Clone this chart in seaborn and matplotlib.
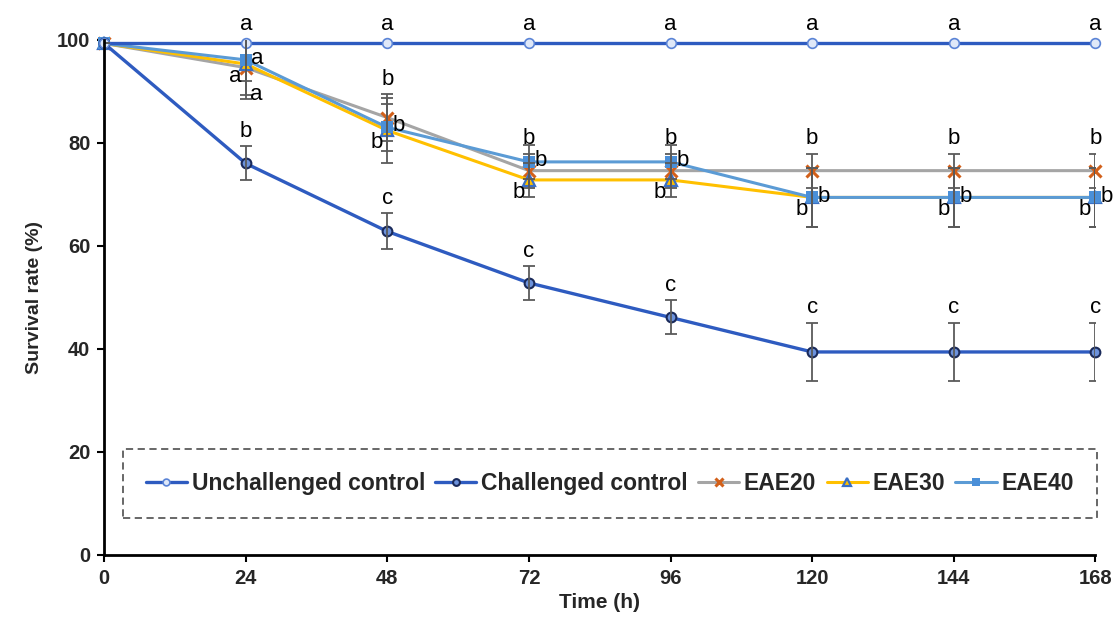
import matplotlib
matplotlib.use("Agg")
import matplotlib.pyplot as plt
import seaborn as sns
import numpy as np

# data
time_h = [0, 24, 48, 72, 96, 120, 144, 168]

unchallenged = [99.3, 99.3, 99.3, 99.3, 99.3, 99.3, 99.3, 99.3]
challenged = [99.3, 76.0, 62.8, 52.8, 46.1, 39.4, 39.4, 39.4]
eae20 = [99.3, 94.6, 84.9, 74.6, 74.6, 74.6, 74.6, 74.6]
eae30 = [99.3, 95.3, 82.4, 72.8, 72.8, 69.4, 69.4, 69.4]
eae40 = [99.3, 96.1, 83.0, 76.3, 76.3, 69.4, 69.4, 69.4]

challenged_err = [0, 3.3, 3.5, 3.3, 3.3, 5.7, 5.7, 5.7]
eae20_err = [0, 6.0, 4.6, 3.3, 3.3, 3.3, 3.3, 3.3]
eae30_err = [0, 6.0, 6.4, 3.3, 3.3, 5.7, 5.7, 5.7]
eae40_err = [0, 4.0, 4.5, 3.3, 3.3, 5.7, 5.7, 5.7]

unchallenged_letters = ["", "a", "a", "a", "a", "a", "a", "a"]
challenged_letters = ["", "b", "c", "c", "c", "c", "c", "c"]
eae20_letters = ["", "a", "b", "b", "b", "b", "b", "b"]
eae30_letters = ["", "a", "b", "b", "b", "b", "b", "b"]
eae40_letters = ["", "a", "b", "b", "b", "b", "b", "b"]

sns.set_style("white")
plt.rcParams["font.family"] = ["Liberation Sans", "DejaVu Sans"]

fig = plt.figure(figsize=(11.2, 6.32), dpi=100)
ax = fig.add_axes([0.093, 0.122, 0.885, 0.815])

err_kw = dict(fmt="none", ecolor="#5a5a5a", elinewidth=1.3, capsize=4,
              capthick=1.3, zorder=6)

# series drawn back to front
sns.lineplot(x=time_h, y=eae20, ax=ax, color="#a5a5a5", lw=2.2,
             marker="x", ms=8, mew=2.2, mec="#d2601a", label="EAE20",
             zorder=3, clip_on=False)
sns.lineplot(x=time_h, y=eae30, ax=ax, color="#ffc000", lw=2.2,
             marker="^", ms=8, mew=1.6, mfc="#ffc000", mec="#3a6fc4",
             label="EAE30", zorder=3, clip_on=False)
sns.lineplot(x=time_h, y=eae40, ax=ax, color="#5b9bd5", lw=2.2,
             marker="s", ms=8, mew=0, mfc="#4a8fd8", label="EAE40",
             zorder=4, clip_on=False)
sns.lineplot(x=time_h, y=challenged, ax=ax, color="#2e5bc0", lw=2.4,
             marker="o", ms=7, mew=1.5, mfc="#6c92dc", mec="#1a2a5a",
             label="Challenged control", zorder=5, clip_on=False)
sns.lineplot(x=time_h, y=unchallenged, ax=ax, color="#2e5bc0", lw=2.4,
             marker="o", ms=7, mew=1.2, mfc="#dfe8f8", mec="#5b84d6",
             label="Unchallenged control", zorder=5, clip_on=False)

ax.errorbar(time_h, challenged, yerr=challenged_err, **err_kw)
ax.errorbar(time_h, eae20, yerr=eae20_err, **err_kw)
ax.errorbar(time_h, eae30, yerr=eae30_err, **err_kw)
ax.errorbar(time_h, eae40, yerr=eae40_err, **err_kw)

# significance letters
txt_kw = dict(textcoords="offset points", fontsize=16, color="black",
              annotation_clip=False, zorder=7)
for t, v, s in zip(time_h, unchallenged, unchallenged_letters):
    ax.annotate(s, (t, v), xytext=(0, 6), ha="center", va="bottom", **txt_kw)
for t, v, e, s in zip(time_h, challenged, challenged_err, challenged_letters):
    ax.annotate(s, (t, v + e), xytext=(0, 3), ha="center", va="bottom", **txt_kw)
for i, (t, v, e, s) in enumerate(zip(time_h, eae20, eae20_err, eae20_letters)):
    if i == 1:
        # no room above at 24 h, the letter sits beside the bar
        ax.annotate(s, (t, v - e), xytext=(3, 3), ha="left", va="center", **txt_kw)
    else:
        ax.annotate(s, (t, v + e), xytext=(0, 3), ha="center", va="bottom", **txt_kw)
for t, v, s in zip(time_h, eae30, eae30_letters):
    ax.annotate(s, (t, v), xytext=(-3, -9), ha="right", va="center", **txt_kw)
for t, v, s in zip(time_h, eae40, eae40_letters):
    ax.annotate(s, (t, v), xytext=(4, 1), ha="left", va="center", **txt_kw)

ax.set_xlim(0, 168)
ax.set_ylim(0, 100)
ax.set_xticks(time_h)
ax.set_yticks([0, 20, 40, 60, 80, 100])
ax.tick_params(axis="both", direction="out", length=5, width=1.5,
               color="black", labelsize=14.5, pad=5, bottom=True, left=True)
for lab in ax.get_xticklabels() + ax.get_yticklabels():
    lab.set_fontweight("bold")

for side in ["top", "right"]:
    ax.spines[side].set_visible(False)
for side in ["left", "bottom"]:
    ax.spines[side].set_linewidth(2)
    ax.spines[side].set_color("black")
    ax.spines[side].set_zorder(8)

ax.set_xlabel("Time (h)", fontsize=15, fontweight="bold", labelpad=4)
ax.set_ylabel("Survival rate (%)", fontsize=14, fontweight="bold", labelpad=10)

# legend in the original order
handles, labels = ax.get_legend_handles_labels()
order = ["Unchallenged control", "Challenged control", "EAE20", "EAE30", "EAE40"]
hmap = dict(zip(labels, handles))
leg = ax.legend([hmap[k] for k in order], order, loc="center",
                bbox_to_anchor=(0.51, 0.138), ncol=5, frameon=True,
                fancybox=False, handlelength=1.8, handletextpad=0.2,
                columnspacing=0.45, borderpad=1.0, markerscale=0.7,
                prop=dict(weight="bold", size=16.5))
frame = leg.get_frame()
frame.set_edgecolor("#333333")
frame.set_linestyle((0, (4, 2.5)))
frame.set_linewidth(1.3)
frame.set_boxstyle("square", pad=0.0)

fig.savefig("out.png", dpi=100)
